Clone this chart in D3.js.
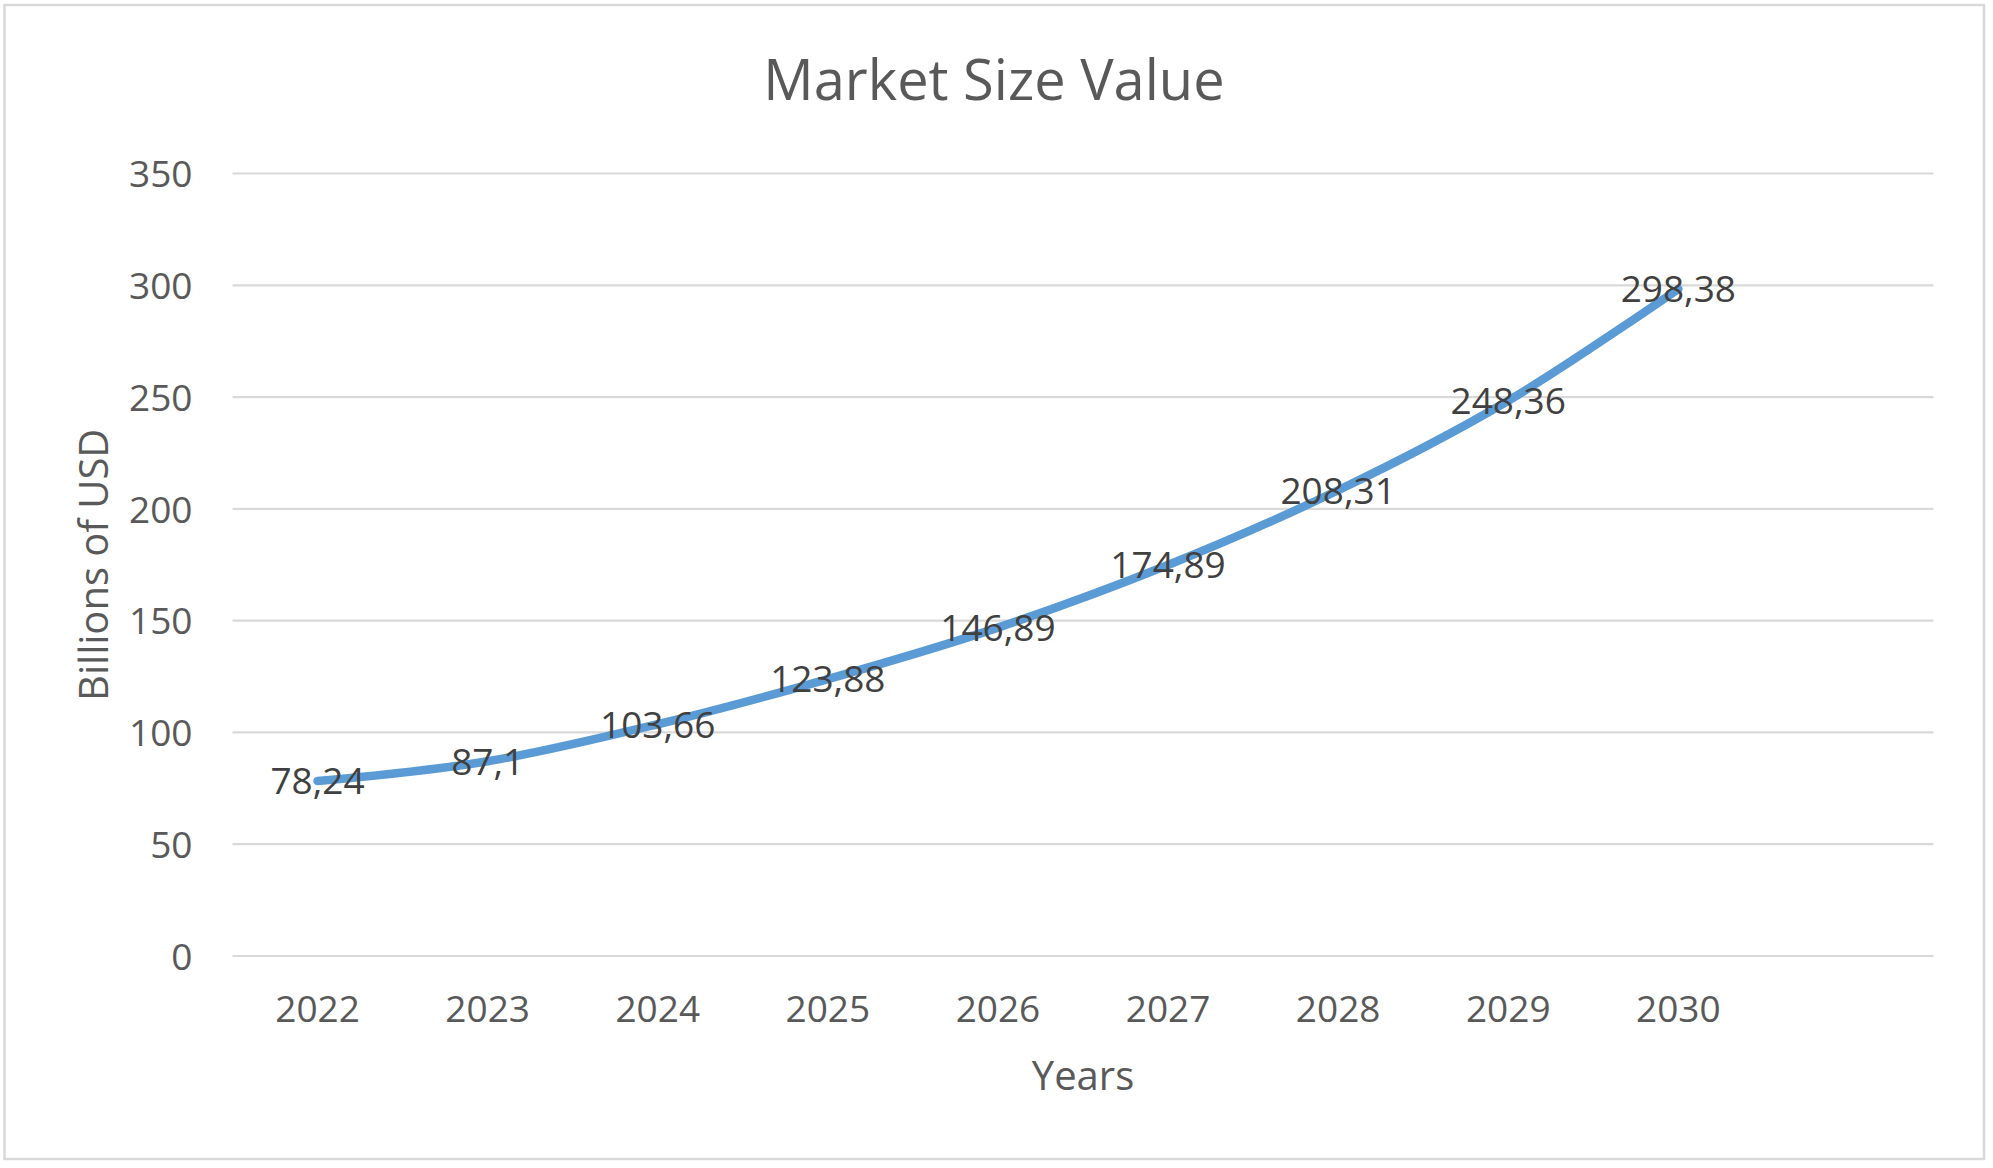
<!DOCTYPE html>
<html>
<head>
<meta charset="utf-8">
<script src="https://cdn.jsdelivr.net/npm/d3@7"></script>
<style>
  html, body { margin: 0; padding: 0; background: #ffffff; }
  svg { display: block; }
  text { font-family: "Open Sans", "Noto Sans", sans-serif; }
</style>
</head>
<body>
<svg id="chart" width="1993" height="1168"></svg>
<script>
// ---- data ----
const years = ["2022", "2023", "2024", "2025", "2026", "2027", "2028", "2029", "2030"];
const marketValues = [78.24, 87.1, 103.66, 123.88, 146.89, 174.89, 208.31, 248.36, 298.38];
const valueLabels = ["78,24", "87,1", "103,66", "123,88", "146,89", "174,89", "208,31", "248,36", "298,38"];
const yTicks = [0, 50, 100, 150, 200, 250, 300, 350];
const chartTitle = "Market Size Value";
const xAxisTitle = "Years";
const yAxisTitle = "Billions of USD";

// ---- layout ----
const plot = { left: 232.5, right: 1933.5, top: 173.5, bottom: 956 };

const svg = d3.select("#chart");

// chart border
svg.append("rect")
  .attr("x", 4.5).attr("y", 5)
  .attr("width", 1984 - 4.5).attr("height", 1159 - 5)
  .attr("fill", "#ffffff")
  .attr("stroke", "#d9d9d9")
  .attr("stroke-width", 2.5);

// scales: one blank trailing slot in the category axis, as in the reference
const x = d3.scaleBand()
  .domain(years.concat([" "]))
  .range([plot.left, plot.right])
  .padding(0);

const y = d3.scaleLinear()
  .domain([0, 350])
  .range([plot.bottom, plot.top]);

const cx = d => x(d) + x.bandwidth() / 2;

// gridlines
svg.append("g")
  .selectAll("line")
  .data(yTicks)
  .join("line")
  .attr("x1", plot.left).attr("x2", plot.right)
  .attr("y1", d => y(d)).attr("y2", d => y(d))
  .attr("stroke", "#d9d9d9")
  .attr("stroke-width", 2.2);

// y axis labels
const yAxis = d3.axisLeft(y).tickValues(yTicks).tickSize(0).tickPadding(0).tickFormat(d3.format("d"));
const yg = svg.append("g").attr("transform", `translate(${plot.left - 40},0)`).call(yAxis);
yg.select(".domain").remove();
yg.selectAll("text")
  .attr("fill", "#595959")
  .attr("font-size", 37)
  .attr("font-family", "'Open Sans', sans-serif")
  .attr("dy", "0.36em");

// x axis labels
const xAxis = d3.axisBottom(x).tickValues(years).tickSize(0).tickPadding(0);
const xg = svg.append("g").attr("transform", `translate(0,${plot.bottom})`).call(xAxis);
xg.select(".domain").remove();
xg.selectAll("text")
  .attr("fill", "#595959")
  .attr("font-size", 37)
  .attr("font-family", "'Open Sans', sans-serif")
  .attr("y", 0)
  .attr("dy", 0)
  .attr("transform", "translate(0,66)");

// line
const pts = years.map((yr, i) => ({ yr, v: marketValues[i], lab: valueLabels[i] }));
const line = d3.line()
  .x(d => cx(d.yr))
  .y(d => y(d.v))
  .curve(d3.curveCatmullRom.alpha(0.5));

svg.append("path")
  .datum(pts)
  .attr("d", line)
  .attr("fill", "none")
  .attr("stroke", "#5b9bd5")
  .attr("stroke-width", 8.5)
  .attr("stroke-linecap", "round")
  .attr("stroke-linejoin", "round");

// data labels (centered on points)
svg.append("g")
  .selectAll("text")
  .data(pts)
  .join("text")
  .attr("x", d => cx(d.yr))
  .attr("y", d => y(d.v))
  .attr("dy", "0.36em")
  .attr("text-anchor", "middle")
  .attr("fill", "#404040")
  .attr("font-size", 37)
  .text(d => d.lab);

// title
svg.append("text")
  .attr("x", 994).attr("y", 100)
  .attr("text-anchor", "middle")
  .attr("fill", "#595959")
  .attr("font-size", 56)
  .text(chartTitle);

// x axis title
svg.append("text")
  .attr("x", (plot.left + plot.right) / 2).attr("y", 1090)
  .attr("text-anchor", "middle")
  .attr("fill", "#595959")
  .attr("font-size", 40)
  .text(xAxisTitle);

// y axis title
svg.append("text")
  .attr("transform", `translate(108,${(plot.top + plot.bottom) / 2}) rotate(-90)`)
  .attr("text-anchor", "middle")
  .attr("fill", "#595959")
  .attr("font-size", 40)
  .text(yAxisTitle);
</script>
</body>
</html>
